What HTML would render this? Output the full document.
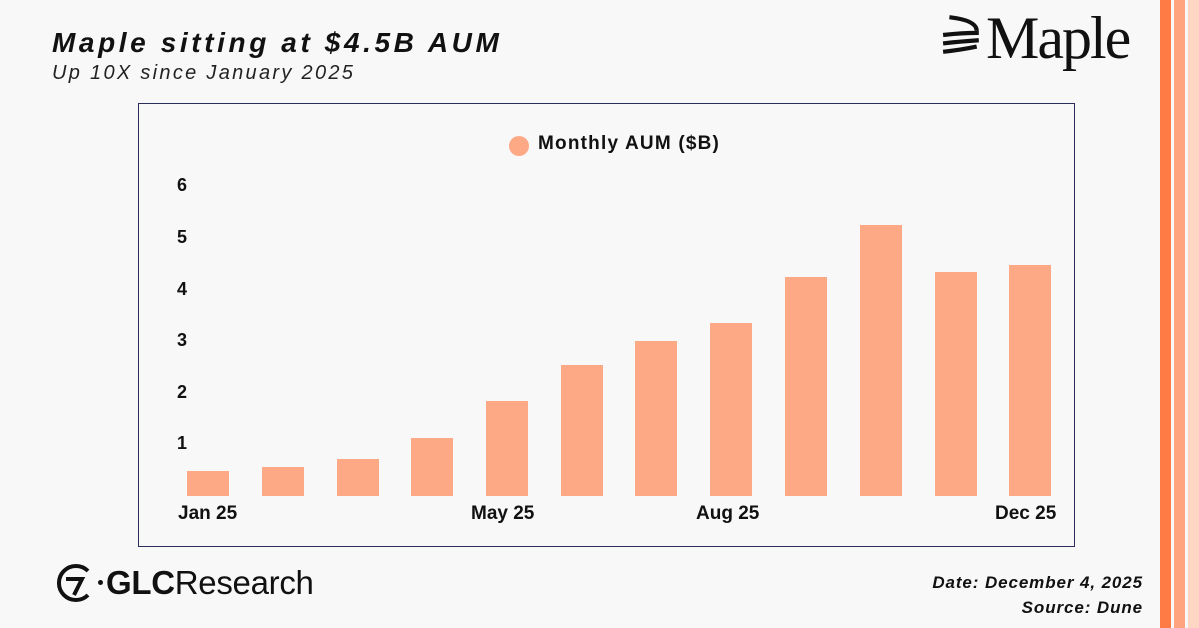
<!DOCTYPE html>
<html><head><meta charset="utf-8"><style>
*{margin:0;padding:0;box-sizing:border-box}
body{width:1199px;height:628px;background:#f8f8f8;position:relative;overflow:hidden;font-family:"Liberation Sans",sans-serif;color:#111}
.a{position:absolute}
.s{position:absolute;top:0;height:628px;width:11px}
.bar{position:absolute;width:42px;background:#fda985;bottom:132px}
.yl{position:absolute;left:177px;font-weight:bold;font-size:18px}
.xl{position:absolute;top:503px;font-weight:bold;font-size:19px}
</style></head><body>
<div class="s" style="left:1160px;background:#ff7b46"></div>
<div class="s" style="left:1174px;background:#ffa47f"></div>
<div class="s" style="left:1188px;background:#ffd6c4"></div>

<div class="a" style="left:52px;top:27px;font-size:28px;font-weight:bold;font-style:italic;letter-spacing:3.6px">Maple sitting at $4.5B AUM</div>
<div class="a" style="left:52px;top:62px;font-size:20px;font-style:italic;letter-spacing:2.3px;color:#222">Up 10X since January 2025</div>

<svg class="a" style="left:940px;top:14px" width="44" height="42" viewBox="0 0 40 40"><g fill="none" stroke="#111" stroke-width="4"><path d="M8 3 Q34 6 34 16"/><path d="M2 20 Q20 18 36 18"/><path d="M2 28 Q20 26 36 25"/><path d="M2 36 Q20 34 34 31"/></g></svg>
<div class="a" style="left:986px;top:4px;font-family:'Liberation Serif',serif;font-size:60px;letter-spacing:-2px">Maple</div>

<div class="a" style="left:138px;top:103px;width:937px;height:444px;border:1.5px solid #2e2e5e"></div>
<div class="a" style="left:509px;top:136px;width:20px;height:20px;border-radius:50%;background:#fda985"></div>
<div class="a" style="left:538px;top:133px;font-weight:bold;font-size:19px;letter-spacing:1.2px">Monthly AUM ($B)</div>

<div class="yl" style="top:175px">6</div>
<div class="yl" style="top:227px">5</div>
<div class="yl" style="top:279px">4</div>
<div class="yl" style="top:330px">3</div>
<div class="yl" style="top:382px">2</div>
<div class="yl" style="top:433px">1</div>

<div class="bar" style="left:187px;height:25px"></div>
<div class="bar" style="left:262px;height:29px"></div>
<div class="bar" style="left:337px;height:37px"></div>
<div class="bar" style="left:411px;height:58px"></div>
<div class="bar" style="left:486px;height:95px"></div>
<div class="bar" style="left:561px;height:131px"></div>
<div class="bar" style="left:635px;height:155px"></div>
<div class="bar" style="left:710px;height:173px"></div>
<div class="bar" style="left:785px;height:219px"></div>
<div class="bar" style="left:860px;height:271px"></div>
<div class="bar" style="left:935px;height:224px"></div>
<div class="bar" style="left:1009px;height:231px"></div>

<div class="xl" style="left:178px">Jan 25</div>
<div class="xl" style="left:471px">May 25</div>
<div class="xl" style="left:696px">Aug 25</div>
<div class="xl" style="left:995px">Dec 25</div>

<svg class="a" style="left:52px;top:561px" width="44" height="44" viewBox="0 0 44 44"><path d="M36 10 A17 17 0 1 0 36 34" fill="none" stroke="#111" stroke-width="4"/><path d="M14 18 L30 18 L22 34" fill="none" stroke="#111" stroke-width="4"/></svg>
<div class="a" style="left:98px;top:580px;width:5px;height:5px;border-radius:50%;background:#111"></div>
<div class="a" style="left:106px;top:564px;font-size:33px;letter-spacing:-0.3px"><b>GLC</b>Research</div>

<div class="a" style="right:56px;top:570px;font-size:17px;font-weight:bold;font-style:italic;text-align:right;line-height:25px;letter-spacing:0.9px">Date: December 4, 2025<br>Source: Dune</div>
</body></html>
